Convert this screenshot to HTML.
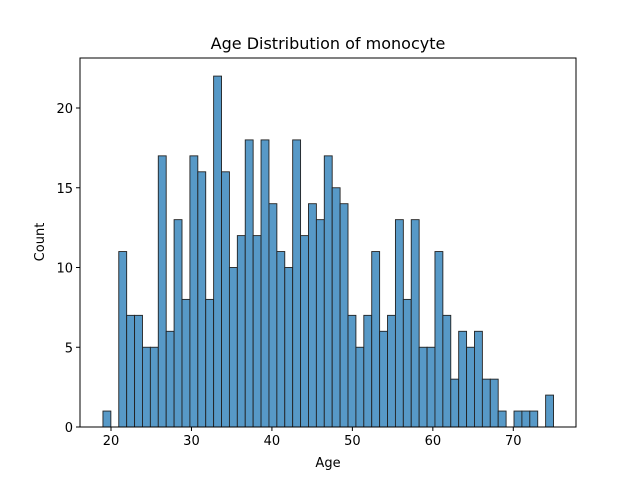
<!DOCTYPE html>
<html><head><meta charset="utf-8"><style>
body{margin:0;background:#fff;font-family:"DejaVu Sans","Liberation Sans",sans-serif;}
svg text{font-family:"DejaVu Sans","Liberation Sans",sans-serif;}
</style></head><body>
<svg id="chart" width="640" height="480">
<rect width="640" height="480" fill="#fff"/>
<g id="bars"></g>
<g id="axes"></g>
<text x="328" y="49" text-anchor="middle" font-size="16">Age Distribution of monocyte</text>
<text x="328" y="467" text-anchor="middle" font-size="13">Age</text>
<text x="44" y="242" text-anchor="middle" font-size="13" transform="rotate(-90 44 242)">Count</text>
</svg>
<script>
const counts=[1,0,11,7,7,5,5,17,6,13,8,17,16,8,22,16,10,12,18,12,18,14,11,10,18,12,14,13,17,15,14,7,5,7,11,6,7,13,8,13,5,5,11,7,3,6,5,6,3,3,1,0,1,1,1,0,2];
const binStart=19, binEnd=75;
const xTicks=[20,30,40,50,60,70];
const yTicks=[0,5,10,15,20];
const L=80,R=576,T=58,B=427;
const xs=v=>111+(v-20)*8.046;
const ys=v=>B-v*15.95;
const NS="http://www.w3.org/2000/svg";
const bars=document.getElementById('bars');
const w=(binEnd-binStart)/counts.length;
counts.forEach((c,i)=>{
 if(c<=0)return;
 const r=document.createElementNS(NS,'rect');
 const x0=xs(binStart+i*w),x1=xs(binStart+(i+1)*w);
 r.setAttribute('x',x0);r.setAttribute('width',x1-x0);
 r.setAttribute('y',ys(c));r.setAttribute('height',B-ys(c));
 r.setAttribute('fill','#5799c7');r.setAttribute('stroke','#222');r.setAttribute('stroke-width','0.9');
 
 
 bars.appendChild(r);
});
const ax=document.getElementById('axes');
const fr=document.createElementNS(NS,'rect');
fr.setAttribute('x',L);fr.setAttribute('y',T);fr.setAttribute('width',R-L);fr.setAttribute('height',B-T);
fr.setAttribute('fill','none');fr.setAttribute('stroke','#000');fr.setAttribute('stroke-width','1');


ax.appendChild(fr);
xTicks.forEach(t=>{
 const x=xs(t);
 const l=document.createElementNS(NS,'line');
 l.setAttribute('x1',x);l.setAttribute('x2',x);l.setAttribute('y1',B);l.setAttribute('y2',B+4);l.setAttribute('stroke','#000');
 
 
 ax.appendChild(l);
 const tx=document.createElementNS(NS,'text');
 tx.setAttribute('x',x);tx.setAttribute('y',B+18);tx.setAttribute('text-anchor','middle');tx.setAttribute('font-size','13');
 tx.textContent=t;
 
 
 ax.appendChild(tx);
});
yTicks.forEach(t=>{
 const y=ys(t);
 const l=document.createElementNS(NS,'line');
 l.setAttribute('x1',L-4);l.setAttribute('x2',L);l.setAttribute('y1',y);l.setAttribute('y2',y);l.setAttribute('stroke','#000');
 
 
 ax.appendChild(l);
 const tx=document.createElementNS(NS,'text');
 tx.setAttribute('x',L-7);tx.setAttribute('y',y+5);tx.setAttribute('text-anchor','end');tx.setAttribute('font-size','13');
 tx.textContent=t;
 
 
 ax.appendChild(tx);
});
</script>
</body></html>
